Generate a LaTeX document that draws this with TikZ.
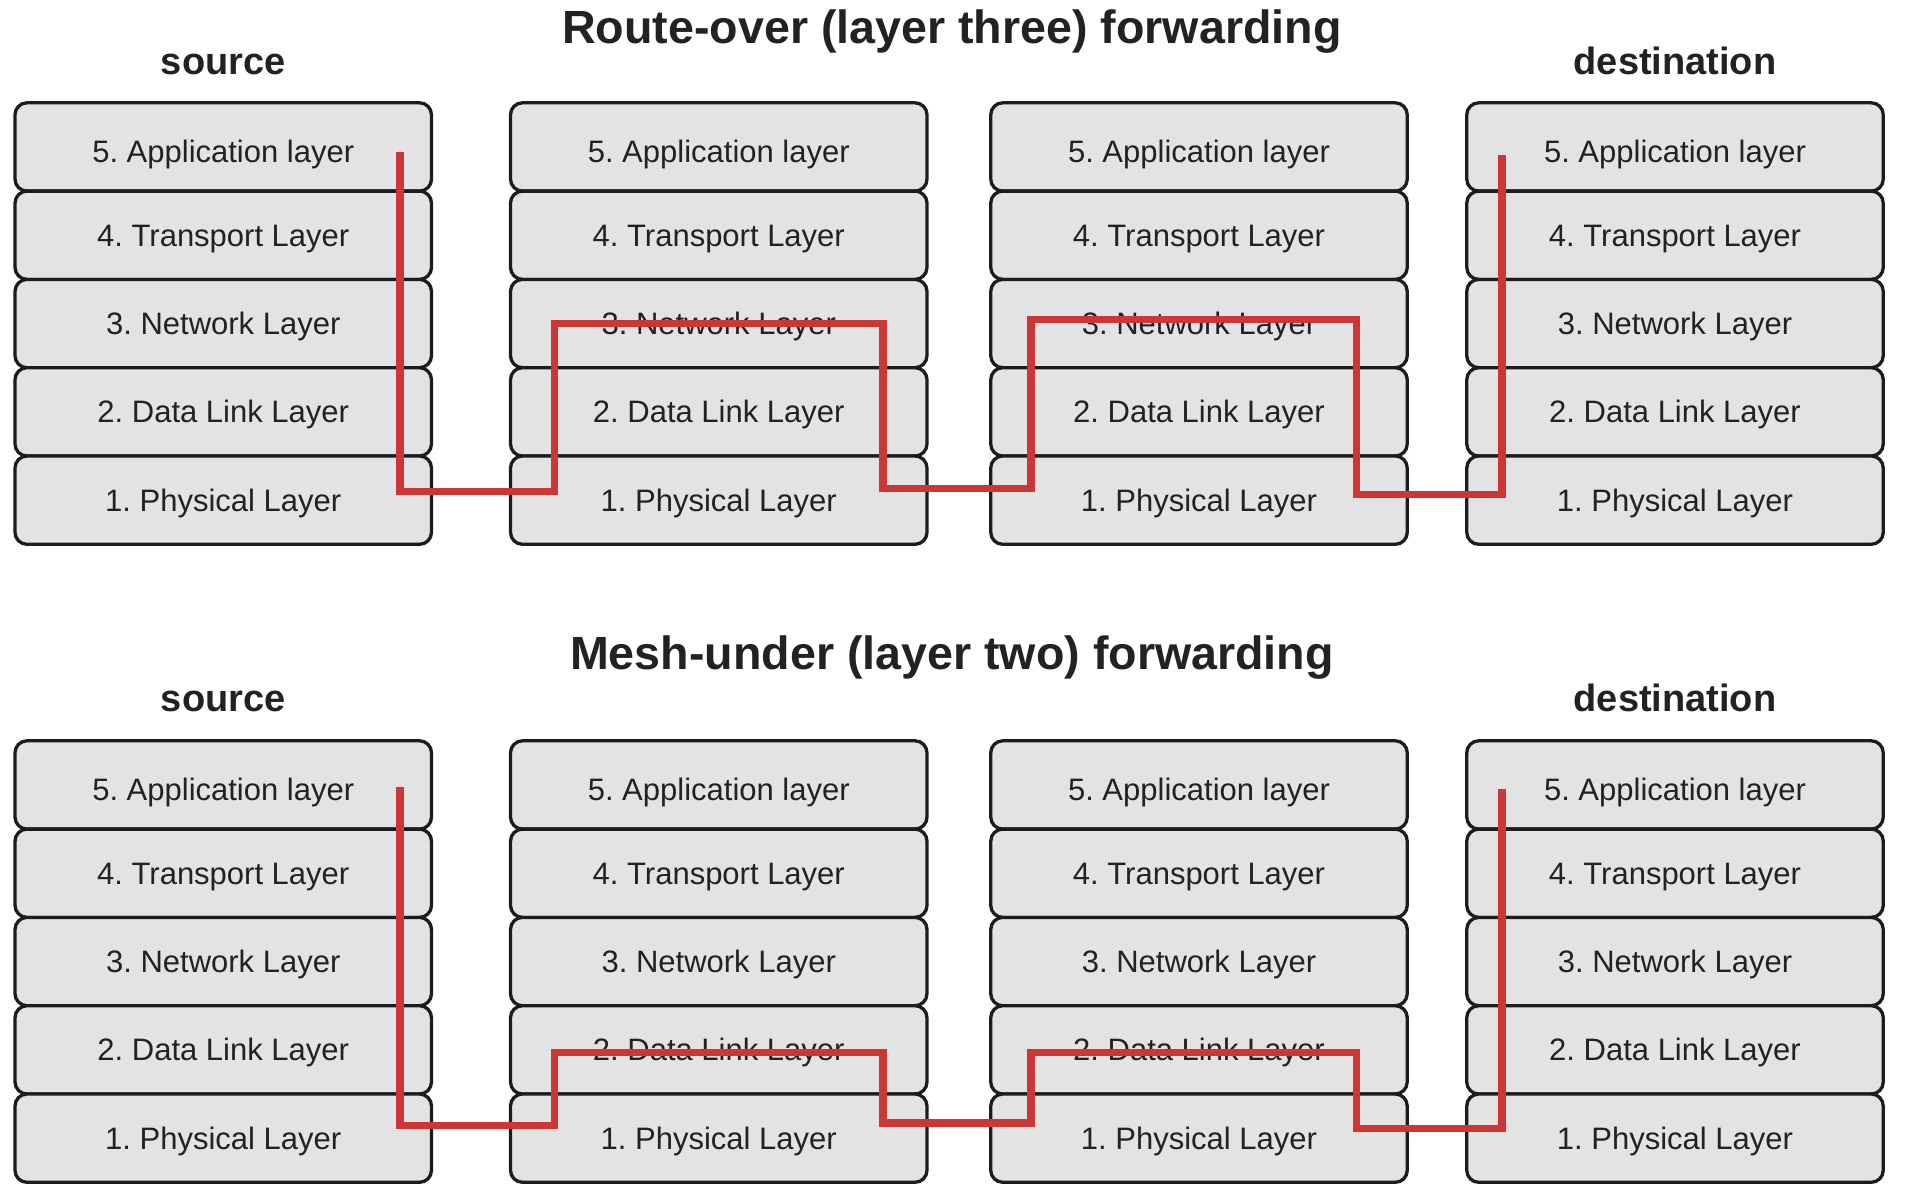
\documentclass[tikz,border=0pt]{standalone}
\usepackage{fontspec}
\setmainfont{Liberation Sans}
\frenchspacing
\definecolor{boxfill}{RGB}{227,227,227}
\definecolor{boxline}{RGB}{28,28,28}
\definecolor{txt}{RGB}{34,34,34}
\definecolor{route}{RGB}{204,54,54}
\begin{document}
\frenchspacing
\begin{tikzpicture}[x=1pt,y=-1pt,
  layer/.style={draw=boxline, fill=boxfill, line width=3.3pt, rounded corners=12pt,
    minimum width=416.5pt, minimum height=88.3pt, inner sep=0pt,
    font=\fontsize{31}{36}\selectfont, text=txt, text height=22.2pt, text depth=0pt},
  applayer/.style={layer, text height=31pt},
  title/.style={font=\fontsize{46.6}{52}\selectfont\bfseries, text=txt, inner sep=0pt, anchor=base},
  endlabel/.style={font=\fontsize{38}{44}\selectfont\bfseries, text=txt, inner sep=0pt, anchor=base},
  routeline/.style={draw=route, line width=7.3pt, line join=miter, line cap=butt}]
\useasboundingbox (0,0) rectangle (1907,1202);

% stacks of layers
\foreach \sec/\oy in {t/0, b/638} {
  \foreach \col/\cx in {1/223.25, 2/718.75, 3/1199, 4/1675} {
    \node[applayer] (\sec\col-5) at (\cx, 146.95+\oy) {5. Application layer};
    \node[layer]    (\sec\col-4) at (\cx, 235.25+\oy) {4. Transport Layer};
    \node[layer]    (\sec\col-3) at (\cx, 323.55+\oy) {3. Network Layer};
    \node[layer]    (\sec\col-2) at (\cx, 411.85+\oy) {2. Data Link Layer};
    \node[layer]    (\sec\col-1) at (\cx, 500.15+\oy) {1. Physical Layer};
  }
}

% titles and end labels
\node[title] (titletop) at (952, 43.5) {Route-over (layer three) forwarding};
\node[title] (titlebot) at (952, 669.8) {Mesh-under (layer two) forwarding};
\node[endlabel] (srctop) at (223.25, 74.5) {source};
\node[endlabel] (dsttop) at (1675, 74.5) {destination};
\node[endlabel] (srcbot) at (223.25, 711.5) {source};
\node[endlabel] (dstbot) at (1675, 711.5) {destination};

% route-over path
\coordinate (ra) at (400, 152);
\coordinate (rb) at (400, 491.7);
\coordinate (rc) at (554.3, 491.7);
\coordinate (rd) at (554.3, 323.7);
\coordinate (re) at (883, 323.7);
\coordinate (rf) at (883, 488.8);
\coordinate (rg) at (1031, 488.8);
\coordinate (rh) at (1031, 319.7);
\coordinate (ri) at (1356.3, 319.7);
\coordinate (rj) at (1356.3, 494.7);
\coordinate (rk) at (1502, 494.7);
\coordinate (rl) at (1502, 155);
\draw[routeline] (ra) -- (rb) -- (rc) -- (rd) -- (re) -- (rf) -- (rg) -- (rh) -- (ri) -- (rj) -- (rk) -- (rl);

% mesh-under path
\coordinate (ma) at (400, 787);
\coordinate (mb) at (400, 1125.8);
\coordinate (mc) at (554.3, 1125.8);
\coordinate (md) at (554.3, 1052.5);
\coordinate (me) at (883, 1052.5);
\coordinate (mf) at (883, 1123);
\coordinate (mg) at (1031, 1123);
\coordinate (mh) at (1031, 1052.2);
\coordinate (mi) at (1356.3, 1052.2);
\coordinate (mj) at (1356.3, 1128.7);
\coordinate (mk) at (1502, 1128.7);
\coordinate (ml) at (1502, 788.7);
\draw[routeline] (ma) -- (mb) -- (mc) -- (md) -- (me) -- (mf) -- (mg) -- (mh) -- (mi) -- (mj) -- (mk) -- (ml);
\end{tikzpicture}
\end{document}
